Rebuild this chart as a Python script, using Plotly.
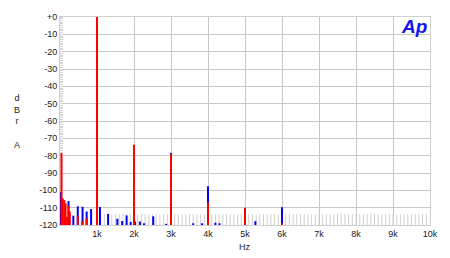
import plotly.graph_objects as go

# ---- data ----
red_freq = [40, 70, 115, 150, 190, 230, 265, 480, 600, 720, 1000, 2000, 3000, 4000, 5000, 6000]
red_db = [-78.5, -104.7, -105.6, -107.5, -115.4, -109.0, -112.2, -114.6, -117.8, -116.0,
          0.0, -73.7, -79.0, -107.0, -110.0, -119.0]

blue_freq = [5, 60, 230, 360, 480, 610, 720, 840, 1080, 1300, 1550, 1680, 1800, 1910, 2030,
             2160, 2270, 2520, 2870, 3000, 3600, 3840, 4000, 4200, 4310, 5280, 6000]
blue_db = [-101.0, -104.7, -106.2, -114.6, -109.2, -109.5, -112.2, -110.8, -109.6, -113.6,
           -116.4, -117.7, -114.5, -118.2, -118.0, -118.0, -119.0, -115.0, -119.3, -78.5,
           -119.0, -119.0, -97.6, -118.7, -119.0, -117.8, -109.7]

floor_freq = [f for f in range(1200, 10000, 100)]
floor_db = [-113.8 for _ in floor_freq]

y_ticks = [0, -10, -20, -30, -40, -50, -60, -70, -80, -90, -100, -110, -120]
y_labels = ["+0", "-10", "-20", "-30", "-40", "-50", "-60", "-70", "-80", "-90", "-100", "-110", "-120"]
x_ticks = [1000, 2000, 3000, 4000, 5000, 6000, 7000, 8000, 9000, 10000]
x_labels = ["1k", "2k", "3k", "4k", "5k", "6k", "7k", "8k", "9k", "10k"]

BASE = -120


def stems(freqs, vals):
    xs, ys = [], []
    for f, v in zip(freqs, vals):
        xs += [f, f, None]
        ys += [BASE, v, None]
    return xs, ys


fig = go.Figure()
fx, fy = stems(floor_freq, floor_db)
fig.add_trace(go.Scatter(x=fx, y=fy, mode="lines", line=dict(color="#cfcfcf", width=1),
                         hoverinfo="skip", showlegend=False))
bx, by = stems(blue_freq, blue_db)
fig.add_trace(go.Scatter(x=bx, y=by, mode="lines", line=dict(color="#0000ff", width=2),
                         showlegend=False))
rx, ry = stems(red_freq, red_db)
fig.add_trace(go.Scatter(x=rx, y=ry, mode="lines", line=dict(color="#ff0000", width=2),
                         showlegend=False))

font = "Liberation Sans, Arial, sans-serif"
fig.update_layout(
    width=450, height=258,
    margin=dict(l=60, r=17, t=12, b=33),
    paper_bgcolor="white", plot_bgcolor="white",
    font=dict(family=font, size=9, color="#222"),
    xaxis=dict(range=[0, 10000], tickvals=x_ticks, ticktext=x_labels,
               showgrid=True, gridcolor="#c8c8c8", gridwidth=1, zeroline=False,
               showline=True, linecolor="#d0d0d0", linewidth=1, mirror=True,
               ticks="", tickfont=dict(size=9), layer="below traces"),
    yaxis=dict(range=[-120, 0], tickvals=y_ticks, ticktext=y_labels,
               showgrid=True, gridcolor="#c8c8c8", gridwidth=1, zeroline=False,
               showline=True, linecolor="#d0d0d0", linewidth=1, mirror=True,
               ticks="", tickfont=dict(size=9), layer="below traces",
               minor=dict(ticks="inside", dtick=1, ticklen=3, tickcolor="#d4d4d4",
                          showgrid=False)),
    annotations=[
        dict(text="Hz", x=0.5, y=-0.104, xref="paper", yref="paper",
             showarrow=False, xanchor="center", yanchor="middle", font=dict(size=9)),
        dict(text="d<br>B<br>r<br><br>A", x=-0.115, y=0.5, xref="paper", yref="paper",
             showarrow=False, xanchor="center", yanchor="middle", font=dict(size=9)),
        dict(text="<b><i>Ap</i></b>", x=0.958, y=0.955, xref="paper", yref="paper",
             showarrow=False, xanchor="center", yanchor="middle",
             font=dict(size=19, color="#1414f0", family=font)),
    ],
)

fig.write_html("out.html")
